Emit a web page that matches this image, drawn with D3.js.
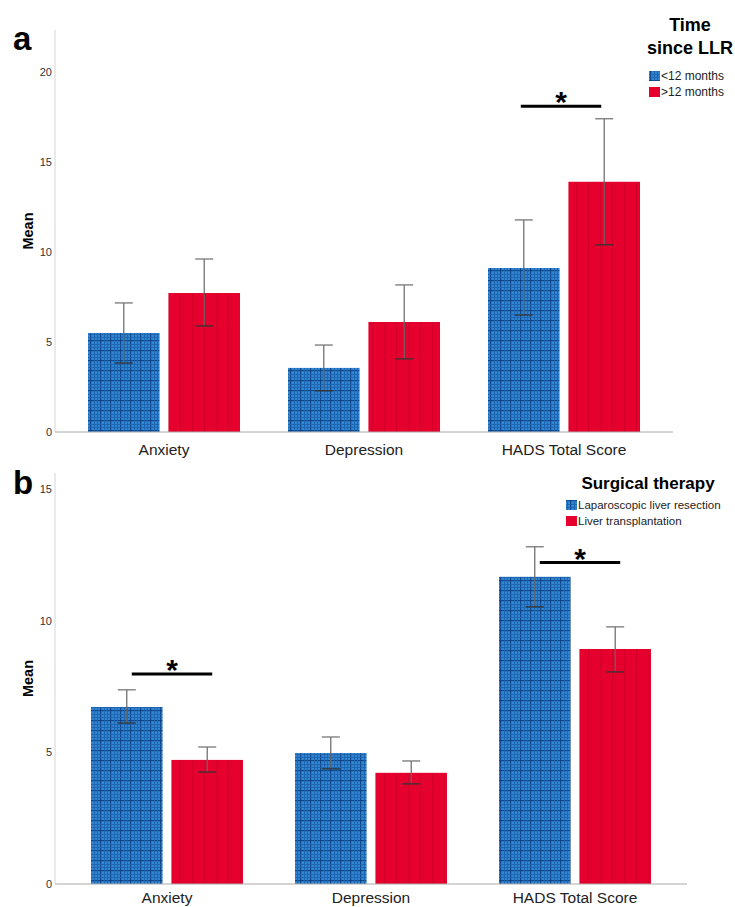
<!DOCTYPE html>
<html>
<head>
<meta charset="utf-8">
<script src="https://cdn.jsdelivr.net/npm/d3@7"></script>
<style>
  body { margin: 0; background: #fff; }
  svg { display: block; font-family: "Liberation Sans", Arial, sans-serif; }
</style>
</head>
<body>
<div id="chart"></div>
<script>
const categories = ['Anxiety', 'Depression', 'HADS Total Score'];

// panel a: time since LLR
const aSeries = ['<12 months', '>12 months'];
const aMeanShort = [5.5, 3.56, 9.11];
const aLowShort = [3.83, 2.29, 6.5];
const aHighShort = [7.17, 4.83, 11.78];
const aMeanLong = [7.72, 6.11, 13.9];
const aLowLong = [5.89, 4.06, 10.4];
const aHighLong = [9.61, 8.17, 17.4];
const aTicks = [0, 5, 10, 15, 20];
const aSig = [{cat: 'HADS Total Score', level: 18.1}];

// panel b: surgical therapy
const bSeries = ['Laparoscopic liver resection', 'Liver transplantation'];
const bMeanLLR = [6.72, 4.97, 11.66];
const bLowLLR = [6.11, 4.37, 10.52];
const bHighLLR = [7.37, 5.58, 12.8];
const bMeanLT = [4.71, 4.22, 8.92];
const bLowLT = [4.25, 3.8, 8.05];
const bHighLT = [5.2, 4.67, 9.76];
const bTicks = [0, 5, 10, 15];
const bSig = [{cat: 'Anxiety', level: 7.97}, {cat: 'HADS Total Score', level: 12.2}];

const svg = d3.select('#chart')
  .append('svg')
  .attr('width', 735)
  .attr('height', 907);

const defs = svg.append('defs');
const plaid = defs.append('pattern')
  .attr('id', 'plaid')
  .attr('patternUnits', 'userSpaceOnUse')
  .attr('width', 10)
  .attr('height', 10);
plaid.append('rect').attr('width', 10).attr('height', 10).attr('fill', '#3084d2');
[[0, '#0a3b7c', 1.2], [4, '#1a62ad', 1], [7, '#1a62ad', 1]].forEach(([p, c, w]) => {
  plaid.append('rect').attr('x', p).attr('y', 0).attr('width', w).attr('height', 10).attr('fill', c).attr('opacity', 0.8);
  plaid.append('rect').attr('x', 0).attr('y', p).attr('width', 10).attr('height', w).attr('fill', c).attr('opacity', 0.8);
});
const stripe = defs.append('pattern')
  .attr('id', 'stripe')
  .attr('patternUnits', 'userSpaceOnUse')
  .attr('width', 12)
  .attr('height', 10);
stripe.append('rect').attr('width', 12).attr('height', 10).attr('fill', '#e6002d');
stripe.append('rect').attr('x', 0).attr('width', 1).attr('height', 10).attr('fill', '#d50029');

const fills = ['url(#plaid)', 'url(#stripe)'];
const swatch = ['url(#plaid)', '#e6002d'];

const drawPanel = p => {
  const g = svg.append('g');
  const y = d3.scaleLinear().domain([0, p.yMax]).range([p.bottom, p.top]);
  const x0 = d3.scaleBand().domain(categories).range(p.xRange);
  const x1 = d3.scaleBand().domain([0, 1]).range([-76, 76]).paddingInner(0.11);

  // axes
  g.append('line')
    .attr('x1', p.left).attr('x2', p.left)
    .attr('y1', p.top).attr('y2', p.bottom)
    .attr('stroke', '#d4d4d4');
  const yAxis = g.append('g')
    .attr('transform', `translate(${p.left},0)`)
    .call(d3.axisLeft(y).tickValues(p.ticks).tickSize(0).tickPadding(3));
  yAxis.select('.domain').remove();
  yAxis.selectAll('text').attr('font-size', 11).attr('fill', '#333').attr('font-family', null);

  g.append('text')
    .attr('transform', `translate(33,${(p.top + p.bottom) / 2}) rotate(-90)`)
    .attr('text-anchor', 'middle')
    .attr('font-weight', 'bold')
    .attr('font-size', 14.5)
    .text('Mean');

  g.append('text')
    .attr('x', 13).attr('y', p.letterY)
    .attr('font-weight', 'bold')
    .attr('font-size', 33)
    .text(p.letter);

  // bars
  const rows = categories.flatMap((c, i) => p.series.map((s, j) => ({
    cat: c, j, mean: p.means[j][i], lo: p.lows[j][i], hi: p.highs[j][i]
  })));
  const bx = d => x0(d.cat) + x0.bandwidth() / 2 + x1(d.j);

  g.selectAll('rect.bar')
    .data(rows)
    .join('rect')
    .attr('class', 'bar')
    .attr('x', bx)
    .attr('width', x1.bandwidth())
    .attr('y', d => y(d.mean))
    .attr('height', d => y(0) - y(d.mean))
    .attr('fill', d => fills[d.j]);

  g.append('line')
    .attr('x1', p.left).attr('x2', p.axisEnd)
    .attr('y1', y(0)).attr('y2', y(0))
    .attr('stroke', '#aaa');

  // error bars
  const err = g.selectAll('g.err')
    .data(rows)
    .join('g')
    .attr('class', 'err')
    .attr('transform', d => `translate(${bx(d) + x1.bandwidth() / 2},0)`);
  err.append('line')
    .attr('y1', d => y(d.lo)).attr('y2', d => y(d.hi))
    .attr('stroke', '#666').attr('stroke-width', 1.2);
  err.append('line')
    .attr('x1', -9).attr('x2', 9)
    .attr('y1', d => y(d.hi)).attr('y2', d => y(d.hi))
    .attr('stroke', '#777').attr('stroke-width', 1.3);
  err.append('line')
    .attr('x1', -9).attr('x2', 9)
    .attr('y1', d => y(d.lo)).attr('y2', d => y(d.lo))
    .attr('stroke', '#333').attr('stroke-width', 1.3);

  // x labels
  g.selectAll('text.cat')
    .data(categories)
    .join('text')
    .attr('class', 'cat')
    .attr('x', d => x0(d) + x0.bandwidth() / 2)
    .attr('y', p.labelY)
    .attr('text-anchor', 'middle')
    .attr('font-size', 15.5)
    .attr('fill', '#222')
    .text(d => d);

  // significance
  p.sig.forEach(s => {
    const c = x0(s.cat) + x0.bandwidth() / 2;
    const xa = c + x1(0) + x1.bandwidth() / 2 + p.sigShift;
    const xb = c + x1(1) + x1.bandwidth() / 2 + p.sigShift;
    g.append('line')
      .attr('x1', xa).attr('x2', xb)
      .attr('y1', y(s.level)).attr('y2', y(s.level))
      .attr('stroke', '#000').attr('stroke-width', 3);
    g.append('text')
      .attr('x', (xa + xb) / 2)
      .attr('y', y(s.level) + 6)
      .attr('text-anchor', 'middle')
      .attr('font-size', 30)
      .attr('font-weight', 'bold')
      .text('*');
  });

  // legend
  const lg = g.append('g');
  p.title.forEach((t, i) => {
    lg.append('text')
      .attr('x', p.titleX).attr('y', p.titleY + i * 23)
      .attr('text-anchor', 'middle')
      .attr('font-weight', 'bold')
      .attr('font-size', p.titleSize)
      .text(t);
  });
  p.series.forEach((s, i) => {
    lg.append('rect')
      .attr('x', p.legX).attr('y', p.legY + i * 16 - 5)
      .attr('width', 11).attr('height', 10)
      .attr('fill', swatch[i]);
    lg.append('text')
      .attr('x', p.legX + 12).attr('y', p.legY + i * 16)
      .attr('dy', '0.35em')
      .attr('font-size', p.legSize)
      .attr('fill', '#222')
      .text(s);
  });
};

drawPanel({
  letter: 'a', letterY: 50,
  top: 30, bottom: 432, yMax: 22.33, ticks: aTicks,
  left: 55, axisEnd: 673, xRange: [64, 664],
  series: aSeries,
  means: [aMeanShort, aMeanLong], lows: [aLowShort, aLowLong], highs: [aHighShort, aHighLong],
  labelY: 455, sig: aSig, sigShift: -3,
  title: ['Time', 'since LLR'], titleX: 690, titleY: 31, titleSize: 18,
  legX: 649, legY: 76, legSize: 12
});

drawPanel({
  letter: 'b', letterY: 494,
  top: 473, bottom: 884, yMax: 15.6, ticks: bTicks,
  left: 55, axisEnd: 687, xRange: [65, 677],
  series: bSeries,
  means: [bMeanLLR, bMeanLT], lows: [bLowLLR, bLowLT], highs: [bHighLLR, bHighLT],
  labelY: 903, sig: bSig, sigShift: 5,
  title: ['Surgical therapy'], titleX: 648, titleY: 489, titleSize: 17,
  legX: 566, legY: 505, legSize: 11.5
});
</script>
</body>
</html>
